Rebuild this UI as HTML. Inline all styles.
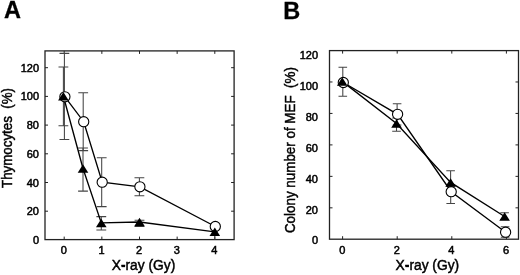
<!DOCTYPE html>
<html><head><meta charset="utf-8"><title>Figure</title>
<style>
html,body{margin:0;padding:0;background:#fff;}
body{width:520px;height:275px;overflow:hidden;font-family:"Liberation Sans",sans-serif;}
svg{display:block;will-change:transform;}
text{font-family:"Liberation Sans",sans-serif;fill:#000;stroke:#000;stroke-width:0.3px;}
.tk{font-size:11px;stroke-width:0.5px;}
.ax{font-size:14.2px;stroke-width:0.45px;white-space:pre;}
.xl{font-size:13.8px;stroke-width:0.45px;}
.pn{font-size:23.5px;font-weight:bold;}
.box{fill:none;stroke:#222;stroke-width:1.3;}
.tick{stroke:#222;stroke-width:1;fill:none;}
.eb{stroke:#444;stroke-width:1.05;fill:none;}
.ln{fill:none;stroke:#000;stroke-width:1.35;}
.ci{fill:#fff;stroke:#000;stroke-width:1.1;}
.tr{fill:#000;}
</style></head><body>
<svg width="520" height="275" viewBox="0 0 520 275">
<rect width="520" height="275" fill="#fff"/>

<text class="pn" x="3.9" y="18.1">A</text>
<rect class="box" x="45.0" y="50.9" width="189.10" height="188.70"/>
<path class="tick" d="M64.20 239.6v-3.0M64.20 50.9v3.0M101.85 239.6v-3.0M101.85 50.9v3.0M139.50 239.6v-3.0M139.50 50.9v3.0M177.15 239.6v-3.0M177.15 50.9v3.0M214.80 239.6v-3.0M214.80 50.9v3.0M45.0 211.20h3.0M234.1 211.20h-3.0M45.0 182.50h3.0M234.1 182.50h-3.0M45.0 153.80h3.0M234.1 153.80h-3.0M45.0 125.10h3.0M234.1 125.10h-3.0M45.0 96.40h3.0M234.1 96.40h-3.0M45.0 67.70h3.0M234.1 67.70h-3.0"/>
<text class="tk" x="63.80" y="253.8" text-anchor="middle">0</text>
<text class="tk" x="101.45" y="253.8" text-anchor="middle">1</text>
<text class="tk" x="139.10" y="253.8" text-anchor="middle">2</text>
<text class="tk" x="176.75" y="253.8" text-anchor="middle">3</text>
<text class="tk" x="214.40" y="253.8" text-anchor="middle">4</text>
<text class="tk" x="39" y="243.90" text-anchor="end">0</text>
<text class="tk" x="39" y="215.20" text-anchor="end">20</text>
<text class="tk" x="39" y="186.50" text-anchor="end">40</text>
<text class="tk" x="39" y="157.80" text-anchor="end">60</text>
<text class="tk" x="39" y="129.10" text-anchor="end">80</text>
<text class="tk" x="39" y="100.40" text-anchor="end">100</text>
<text class="tk" x="39" y="71.70" text-anchor="end">120</text>
<text class="xl" x="143.5" y="270" text-anchor="middle">X-ray (Gy)</text><rect x="121.60" y="265.15" width="3.4" height="2.0"/>
<text class="ax" transform="translate(11.5,138.0) rotate(-90) scale(0.939,1)" text-anchor="middle" xml:space="preserve">Thymocytes  (%)</text>
<g class="eb"><path d="M64.40 53.35V139.45M59.50 53.35h9.8M59.50 139.45h9.8"/><path d="M83.20 92.70V150.60M78.30 92.70h9.8M78.30 150.60h9.8"/><path d="M101.70 157.80V206.60M96.80 157.80h9.8M96.80 206.60h9.8"/><path d="M139.40 177.70V195.70M134.50 177.70h9.8M134.50 195.70h9.8"/><path d="M63.40 67.00V125.80M58.50 67.00h9.8M58.50 125.80h9.8"/><path d="M83.00 148.00V191.10M78.10 148.00h9.8M78.10 191.10h9.8"/><path d="M101.30 216.60V230.00M96.40 216.60h9.8M96.40 230.00h9.8"/><path d="M139.50 220.20V226.40M134.60 220.20h9.8M134.60 226.40h9.8"/><path d="M214.80 228.30V239.60M209.90 228.30h9.8"/></g>
<polyline class="ln" points="64.90,96.80 83.70,121.70 102.20,182.20 139.90,186.80 215.30,226.50"/>
<polyline class="ln" points="63.40,96.20 83.00,168.50 101.30,222.90 139.50,222.00 214.80,231.80"/>
<g class="ci"><circle cx="64.90" cy="96.80" r="5.1"/><circle cx="83.70" cy="121.70" r="5.1"/><circle cx="102.20" cy="182.20" r="5.1"/><circle cx="139.90" cy="186.80" r="5.1"/><circle cx="215.30" cy="226.50" r="5.1"/></g>
<g class="tr"><polygon points="63.40,91.95 58.10,100.45 68.70,100.45"/><polygon points="83.00,164.25 77.70,172.75 88.30,172.75"/><polygon points="101.30,218.65 96.00,227.15 106.60,227.15"/><polygon points="139.50,217.75 134.20,226.25 144.80,226.25"/><polygon points="214.80,227.55 209.50,236.05 220.10,236.05"/></g>
<text class="pn" x="283.2" y="19.1">B</text>
<rect class="box" x="329.5" y="50.6" width="189.00" height="188.60"/>
<path class="tick" d="M342.60 239.2v-3.0M342.60 50.6v3.0M397.20 239.2v-3.0M397.20 50.6v3.0M451.80 239.2v-3.0M451.80 50.6v3.0M506.40 239.2v-3.0M506.40 50.6v3.0M329.5 207.83h3.0M518.5 207.83h-3.0M329.5 176.37h3.0M518.5 176.37h-3.0M329.5 144.90h3.0M518.5 144.90h-3.0M329.5 113.43h3.0M518.5 113.43h-3.0M329.5 81.97h3.0M518.5 81.97h-3.0"/>
<text class="tk" x="342.20" y="253.6" text-anchor="middle">0</text>
<text class="tk" x="396.80" y="253.6" text-anchor="middle">2</text>
<text class="tk" x="451.40" y="253.6" text-anchor="middle">4</text>
<text class="tk" x="506.00" y="253.6" text-anchor="middle">6</text>
<text class="tk" x="318" y="59.30" text-anchor="end">120</text>
<text class="tk" x="318" y="90.15" text-anchor="end">100</text>
<text class="tk" x="318" y="121.00" text-anchor="end">80</text>
<text class="tk" x="318" y="151.85" text-anchor="end">60</text>
<text class="tk" x="318" y="182.70" text-anchor="end">40</text>
<text class="tk" x="318" y="213.55" text-anchor="end">20</text>
<text class="tk" x="318" y="244.40" text-anchor="end">0</text>
<text class="xl" x="427.4" y="270" text-anchor="middle">X-ray (Gy)</text><rect x="405.50" y="265.15" width="3.4" height="2.0"/>
<text class="ax" transform="translate(295.3,150.1) rotate(-90) scale(0.944,1)" text-anchor="middle" xml:space="preserve">Colony number of MEF  (%)</text>
<g class="eb"><path d="M342.80 67.20V96.30M338.50 67.20h8.6M338.50 96.30h8.6"/><path d="M397.10 103.70V125.00M392.80 103.70h8.6M392.80 125.00h8.6"/><path d="M450.70 185.60V203.40M446.40 185.60h8.6M446.40 203.40h8.6"/><path d="M505.10 226.70V237.30M500.80 226.70h8.6M500.80 237.30h8.6"/><path d="M396.50 118.00V131.30M392.20 118.00h8.6M392.20 131.30h8.6"/><path d="M450.60 170.80V186.00M446.30 170.80h8.6M446.30 186.00h8.6"/><path d="M504.60 212.80V219.50M500.30 212.80h8.6M500.30 219.50h8.6"/></g>
<polyline class="ln" points="343.30,82.50 397.60,114.30 451.20,191.70 505.60,232.20"/>
<polyline class="ln" points="342.20,81.40 396.50,123.50 450.60,182.40 504.60,216.50"/>
<g class="ci"><circle cx="343.30" cy="82.50" r="5.1"/><circle cx="397.60" cy="114.30" r="5.1"/><circle cx="451.20" cy="191.70" r="5.1"/><circle cx="505.60" cy="232.20" r="5.1"/></g>
<g class="tr"><polygon points="342.20,77.15 336.90,85.65 347.50,85.65"/><polygon points="396.50,119.25 391.20,127.75 401.80,127.75"/><polygon points="450.60,178.15 445.30,186.65 455.90,186.65"/><polygon points="504.60,212.25 499.30,220.75 509.90,220.75"/></g>
</svg></body></html>
